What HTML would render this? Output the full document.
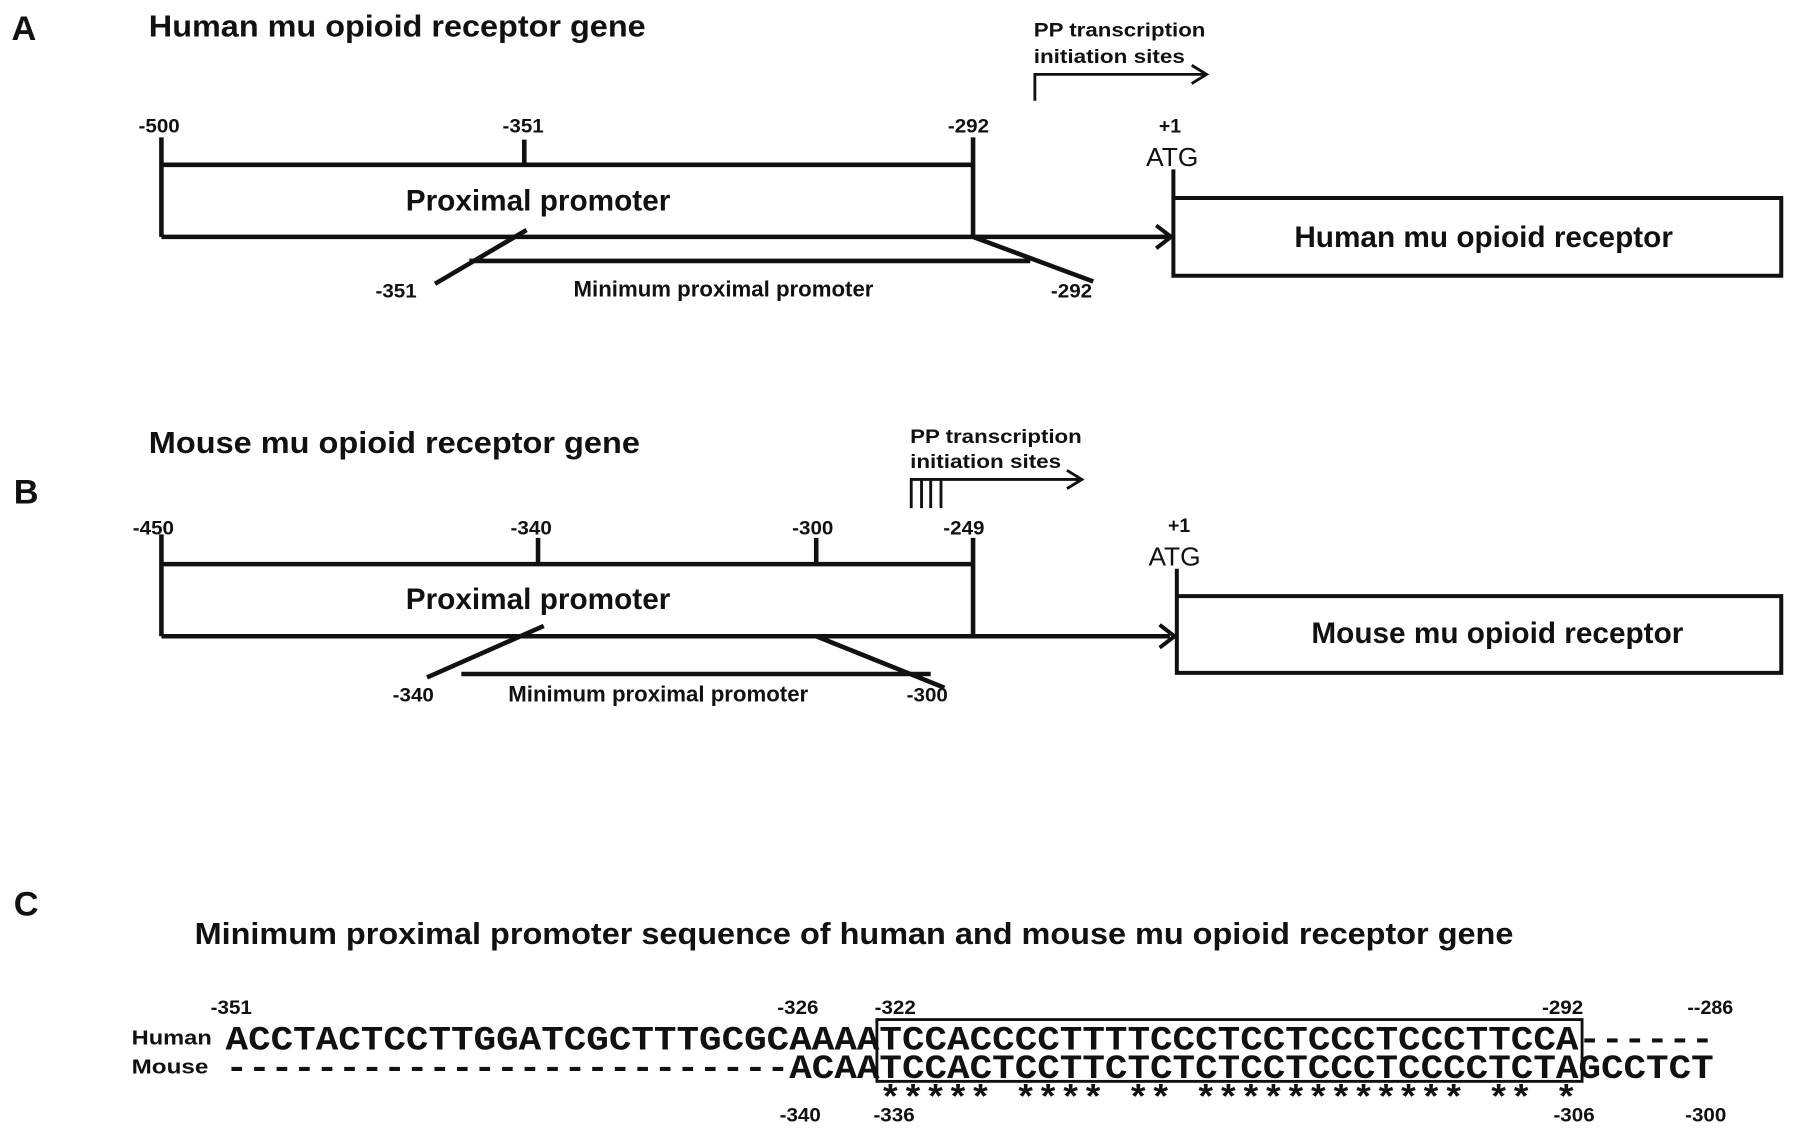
<!DOCTYPE html>
<html><head><meta charset="utf-8"><style>html,body{margin:0;padding:0;background:#fff}svg{display:block}</style></head><body>
<svg width="1795" height="1134" viewBox="0 0 1568 991" preserveAspectRatio="none" xmlns="http://www.w3.org/2000/svg" font-family="Liberation Sans, sans-serif" font-weight="bold" fill="#111">
<g stroke="#111" fill="none" stroke-width="4">
<!-- A -->
<path d="M141,120V207M141,144H850M458,122V144M850,120V207M141,207H1022"/>
<path d="M1010,197L1023,207L1010,217" stroke-width="3.5"/>
<path d="M1025,148V241H1556V173H1025" stroke-width="3.5"/>
<path d="M460,201L380,248M850,207L955,246M410,228H900" />
<path d="M904,88V65H1053M1041,57L1054,65L1041,73" stroke-width="2.5"/>
<!-- B -->
<path d="M141,467V556M141,493H850M470,470V493M713,470V493M850,470V556M141,556H1022"/>
<path d="M1013,546L1026,556L1013,566" stroke-width="3.5"/>
<path d="M1028,497V588H1556V521H1028" stroke-width="3.5"/>
<path d="M475,547L373,592M713,556L825,601M403,589H813"/>
<path d="M796,444V419H944M932,411L945,419L932,427M805,419V444M813,419V444M822,419V444" stroke-width="2.5"/>
<!-- C box -->
<rect x="766" y="891" width="616" height="54" stroke-width="2.5"/>
</g>
<g font-size="30"><text x="10" y="35">A</text><text x="12" y="440">B</text><text x="12" y="800">C</text></g>
<g font-size="27">
<text x="130" y="32" textLength="434" lengthAdjust="spacingAndGlyphs">Human mu opioid receptor gene</text>
<text x="130" y="396" textLength="429" lengthAdjust="spacingAndGlyphs">Mouse mu opioid receptor gene</text>
<text x="170" y="825" textLength="1152" lengthAdjust="spacingAndGlyphs">Minimum proximal promoter sequence of human and mouse mu opioid receptor gene</text>
</g>
<g font-size="26" text-anchor="middle">
<text x="470" y="184">Proximal promoter</text>
<text x="470" y="532">Proximal promoter</text>
<text x="1296" y="216">Human mu opioid receptor</text>
<text x="1308" y="562">Mouse mu opioid receptor</text>
</g>
<g font-size="17" text-anchor="middle">
<text x="139" y="116" textLength="36" lengthAdjust="spacingAndGlyphs">-500</text><text x="457" y="116" textLength="36" lengthAdjust="spacingAndGlyphs">-351</text><text x="846" y="116" textLength="36" lengthAdjust="spacingAndGlyphs">-292</text><text x="1022" y="116">+1</text>
<text x="346" y="260" textLength="36" lengthAdjust="spacingAndGlyphs">-351</text><text x="936" y="260" textLength="36" lengthAdjust="spacingAndGlyphs">-292</text>
<text x="632" y="259" textLength="262" lengthAdjust="spacingAndGlyphs" font-size="19">Minimum proximal promoter</text>
<text x="134" y="467" textLength="36" lengthAdjust="spacingAndGlyphs">-450</text><text x="464" y="467" textLength="36" lengthAdjust="spacingAndGlyphs">-340</text><text x="710" y="467" textLength="36" lengthAdjust="spacingAndGlyphs">-300</text><text x="842" y="467" textLength="36" lengthAdjust="spacingAndGlyphs">-249</text><text x="1030" y="465">+1</text>
<text x="361" y="613" textLength="36" lengthAdjust="spacingAndGlyphs">-340</text><text x="810" y="613" textLength="36" lengthAdjust="spacingAndGlyphs">-300</text>
<text x="575" y="613" textLength="262" lengthAdjust="spacingAndGlyphs" font-size="19">Minimum proximal promoter</text>
</g>
<g font-size="23" font-weight="normal" text-anchor="middle"><text x="1024" y="145">ATG</text><text x="1026" y="494">ATG</text></g>
<g font-size="17">
<text x="903" y="32" textLength="150" lengthAdjust="spacingAndGlyphs">PP transcription</text><text x="903" y="55" textLength="132" lengthAdjust="spacingAndGlyphs">initiation sites</text>
<text x="795" y="387" textLength="150" lengthAdjust="spacingAndGlyphs">PP transcription</text><text x="795" y="409" textLength="132" lengthAdjust="spacingAndGlyphs">initiation sites</text>
</g>
<g font-size="17" text-anchor="middle">
<text x="202" y="886" textLength="36" lengthAdjust="spacingAndGlyphs">-351</text><text x="697" y="886" textLength="36" lengthAdjust="spacingAndGlyphs">-326</text><text x="782" y="886" textLength="36" lengthAdjust="spacingAndGlyphs">-322</text><text x="1365" y="886" textLength="36" lengthAdjust="spacingAndGlyphs">-292</text><text x="1494" y="886" textLength="40" lengthAdjust="spacingAndGlyphs">--286</text>
<text x="699" y="980" textLength="36" lengthAdjust="spacingAndGlyphs">-340</text><text x="781" y="980" textLength="36" lengthAdjust="spacingAndGlyphs">-336</text><text x="1375" y="980" textLength="36" lengthAdjust="spacingAndGlyphs">-306</text><text x="1490" y="980" textLength="36" lengthAdjust="spacingAndGlyphs">-300</text>
</g>
<g font-size="18"><text x="115" y="913" textLength="70" lengthAdjust="spacingAndGlyphs">Human</text><text x="115" y="938" textLength="67" lengthAdjust="spacingAndGlyphs">Mouse</text></g>
<g font-family="Liberation Mono, monospace" font-size="30" xml:space="preserve">
<text x="197" y="917" textLength="1300" lengthAdjust="spacingAndGlyphs">ACCTACTCCTTGGATCGCTTTGCGCAAAATCCACCCCTTTTCCCTCCTCCCTCCCTTCCA------</text>
<text x="197" y="942" textLength="1300" lengthAdjust="spacingAndGlyphs">-------------------------ACAATCCACTCCTTCTCTCTCCTCCCTCCCCTCTAGCCTCT</text>
<text x="768" y="969" textLength="610" lengthAdjust="spacingAndGlyphs">***** **** ** ************ ** *</text>
</g>
</svg>
</body></html>
